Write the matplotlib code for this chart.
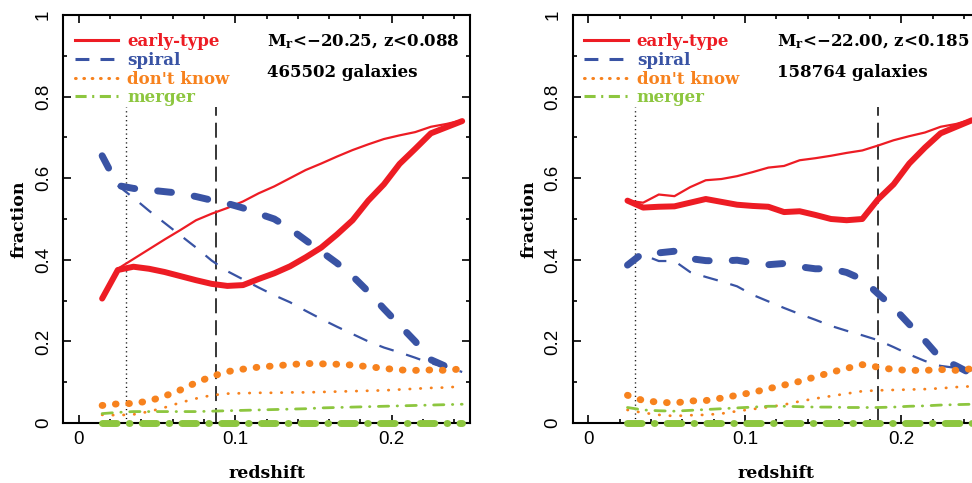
import matplotlib
matplotlib.use("Agg")
import matplotlib.pyplot as plt
from matplotlib.lines import Line2D
from matplotlib.ticker import MultipleLocator

plt.rcParams['font.family'] = 'DejaVu Serif'
plt.rcParams['mathtext.fontset'] = 'dejavuserif'
plt.rcParams['mathtext.default'] = 'bf'
plt.rcParams['lines.scale_dashes'] = False

RED = '#ed1c24'
BLUE = '#3953a4'
ORANGE = '#f7821e'
GREEN = '#8dc63f'

# redshift bin centres
z_left = [0.015, 0.025, 0.035, 0.045, 0.055, 0.065, 0.075, 0.085, 0.095, 0.105, 0.115, 0.125,
          0.135, 0.145, 0.155, 0.165, 0.175, 0.185, 0.195, 0.205, 0.215, 0.225, 0.235, 0.245]
z_right = z_left[1:]

# left panel: Mr < -20.25, z < 0.088  (thick = raw, thin = corrected)
left_early = [0.305, 0.375, 0.383, 0.378, 0.370, 0.360, 0.350, 0.341, 0.336, 0.338, 0.353, 0.367,
              0.384, 0.406, 0.430, 0.462, 0.497, 0.545, 0.585, 0.635, 0.672, 0.710, 0.725, 0.740]
left_early_thin = [0.378, 0.402, 0.426, 0.450, 0.473, 0.497, 0.513, 0.527, 0.543, 0.563, 0.580, 0.600,
                   0.620, 0.636, 0.653, 0.669, 0.683, 0.696, 0.705, 0.713, 0.726, 0.733, 0.742]
left_spiral = [0.655, 0.582, 0.575, 0.571, 0.567, 0.563, 0.555, 0.546, 0.538, 0.527, 0.513, 0.500,
               0.476, 0.448, 0.420, 0.392, 0.360, 0.322, 0.280, 0.240, 0.200, 0.155, 0.138, 0.122]
left_spiral_thin = [0.582, 0.552, 0.520, 0.490, 0.460, 0.430, 0.398, 0.372, 0.352, 0.332, 0.313, 0.296,
                    0.275, 0.255, 0.236, 0.218, 0.200, 0.185, 0.173, 0.160, 0.146, 0.138, 0.125]
left_dk = [0.043, 0.047, 0.048, 0.054, 0.066, 0.081, 0.099, 0.114, 0.126, 0.132, 0.137, 0.140,
           0.143, 0.146, 0.145, 0.144, 0.142, 0.138, 0.134, 0.130, 0.129, 0.130, 0.129, 0.133]
left_dk_thin = [0.020, 0.019, 0.021, 0.028, 0.038, 0.050, 0.060, 0.068, 0.072, 0.073, 0.074, 0.074,
                0.075, 0.075, 0.076, 0.077, 0.078, 0.079, 0.080, 0.082, 0.084, 0.086, 0.087, 0.090]
left_merger = [0.0, 0.0, 0.0, 0.0, 0.0, 0.0, 0.0, 0.0, 0.0, 0.0, 0.0, 0.0,
               0.0, 0.0, 0.0, 0.0, 0.0, 0.0, 0.0, 0.0, 0.0, 0.0, 0.0, 0.0]
left_merger_thin = [0.023, 0.026, 0.028, 0.028, 0.028, 0.028, 0.028, 0.029, 0.030, 0.031, 0.032, 0.033,
                    0.034, 0.035, 0.037, 0.038, 0.039, 0.040, 0.041, 0.042, 0.043, 0.044, 0.045, 0.046]

# right panel: Mr < -22.00, z < 0.185
right_early = [0.545, 0.528, 0.530, 0.531, 0.540, 0.549, 0.542, 0.535, 0.532, 0.530, 0.517, 0.519,
               0.510, 0.500, 0.497, 0.500, 0.548, 0.585, 0.636, 0.675, 0.710, 0.726, 0.742]
right_early_thin = [0.545, 0.540, 0.560, 0.556, 0.578, 0.595, 0.598, 0.605, 0.615, 0.626, 0.630, 0.644,
                    0.649, 0.655, 0.662, 0.668, 0.680, 0.693, 0.703, 0.712, 0.726, 0.733, 0.744]
right_spiral = [0.387, 0.417, 0.417, 0.421, 0.403, 0.398, 0.397, 0.399, 0.393, 0.388, 0.391, 0.383,
                0.378, 0.378, 0.369, 0.352, 0.317, 0.283, 0.242, 0.202, 0.158, 0.140, 0.120]
right_spiral_thin = [0.387, 0.412, 0.397, 0.397, 0.370, 0.358, 0.347, 0.335, 0.314, 0.298, 0.282, 0.267,
                     0.253, 0.238, 0.226, 0.215, 0.203, 0.186, 0.168, 0.152, 0.140, 0.135, 0.129]
right_dk = [0.068, 0.055, 0.051, 0.049, 0.054, 0.055, 0.061, 0.068, 0.075, 0.084, 0.093, 0.102,
            0.113, 0.124, 0.134, 0.143, 0.137, 0.131, 0.129, 0.129, 0.131, 0.129, 0.133]
right_dk_thin = [0.032, 0.025, 0.020, 0.017, 0.019, 0.020, 0.023, 0.029, 0.034, 0.039, 0.045, 0.053,
                 0.060, 0.066, 0.072, 0.078, 0.080, 0.081, 0.082, 0.083, 0.085, 0.088, 0.090]
right_merger = [0.0, 0.0, 0.0, 0.0, 0.0, 0.0, 0.0, 0.0, 0.0, 0.0, 0.0, 0.0,
                0.0, 0.0, 0.0, 0.0, 0.0, 0.0, 0.0, 0.0, 0.0, 0.0, 0.0]
right_merger_thin = [0.038, 0.032, 0.030, 0.029, 0.031, 0.033, 0.035, 0.037, 0.039, 0.041, 0.041, 0.040,
                     0.039, 0.039, 0.038, 0.038, 0.038, 0.039, 0.041, 0.042, 0.044, 0.045, 0.046]

labels = ['early-type', 'spiral', "don't know", 'merger']
colors = [RED, BLUE, ORANGE, GREEN]
x_ticks = [0, 0.1, 0.2]
x_ticklabels = ['0', '0.1', '0.2']
y_ticks = [0, 0.2, 0.4, 0.6, 0.8, 1.0]
y_ticklabels = ['0', '0.2', '0.4', '0.6', '0.8', '1']

z_vol = 0.03
z_lim_left = 0.088
z_lim_right = 0.185
cut_height = 0.775

thick_style = [
    dict(lw=4.3, solid_capstyle='round', solid_joinstyle='round'),
    dict(lw=5.0, dashes=(10, 16.6), dash_capstyle='round', dash_joinstyle='round'),
    dict(lw=5.0, dashes=(0.5, 9.1), dash_capstyle='round'),
    dict(lw=5.0, dashes=(10.5, 8.8, 0.5, 8.8), dash_capstyle='round'),
]
thin_style = [
    dict(lw=1.6),
    dict(lw=1.6, dashes=(10.8, 9.4)),
    dict(lw=2.0, dashes=(0.3, 7.4), dash_capstyle='round'),
    dict(lw=2.0, dashes=(7.4, 6.1, 0.3, 6.1), dash_capstyle='round'),
]
legend_style = [
    dict(lw=2.2),
    dict(lw=2.2, dashes=(10, 8)),
    dict(lw=2.2, dashes=(0.5, 5.5), dash_capstyle='round'),
    dict(lw=2.2, dashes=(8, 4, 1.5, 4)),
]


def draw_panel(ax, z_thick, thick, z_thin, thin, z_cut, title, ngal):
    for c in range(4):
        zt = z_thick[-len(thick[c]):]
        ax.plot(zt, thick[c], color=colors[c], clip_on=(c != 3), zorder=3, **thick_style[c])
        zn = z_thin[-len(thin[c]):]
        ax.plot(zn, thin[c], color=colors[c], zorder=3, **thin_style[c])

    ax.vlines(z_vol, 0, cut_height, color='black', lw=1.0, linestyles=[(0, (0.8, 2.4))])
    ax.vlines(z_cut, 0, cut_height, color='black', lw=1.1, linestyles=[(0, (10.8, 5))])

    ax.set_xlim(-0.01, 0.25)
    ax.set_ylim(0, 1)
    ax.set_xticks(x_ticks)
    ax.set_xticklabels(x_ticklabels, family='Liberation Sans')
    ax.set_yticks(y_ticks)
    ax.set_yticklabels(y_ticklabels, family='Liberation Sans', rotation=90, va='center')
    ax.xaxis.set_minor_locator(MultipleLocator(0.02))
    ax.yaxis.set_minor_locator(MultipleLocator(0.1))
    ax.tick_params(which='both', direction='in', top=True, right=True, width=1.2, labelsize=13.5)
    ax.tick_params(which='major', length=6)
    ax.tick_params(which='minor', length=3.2)
    ax.tick_params(axis='x', pad=6)
    ax.tick_params(axis='y', pad=8)
    for s in ax.spines.values():
        s.set_linewidth(1.5)

    ax.set_xlabel('redshift', fontsize=12.5, fontweight='bold', labelpad=12)
    ax.set_ylabel('fraction', fontsize=12.5, fontweight='bold', labelpad=5)

    handles = [Line2D([], [], color=colors[c], **legend_style[c]) for c in range(4)]
    ax.legend(handles, labels, loc='upper left', bbox_to_anchor=(0.0, 0.984), frameon=False,
              prop=dict(size=12, weight='bold'), labelcolor=colors, handlelength=2.6,
              handletextpad=0.55, labelspacing=0.1, borderaxespad=0.3)

    ax.text(0.501, 0.934, title, transform=ax.transAxes, fontsize=12, fontweight='bold',
            va='center', ha='left')
    ax.text(0.501, 0.860, ngal, transform=ax.transAxes, fontsize=12, fontweight='bold',
            va='center', ha='left')


fig = plt.figure(figsize=(9.72, 4.83), dpi=100)
ax1 = fig.add_axes([63 / 972, 60 / 483, 407 / 972, 408 / 483])
ax2 = fig.add_axes([572.7 / 972, 60 / 483, 407 / 972, 408 / 483])

draw_panel(ax1, z_left,
           [left_early, left_spiral, left_dk, left_merger],
           z_left,
           [left_early_thin, left_spiral_thin, left_dk_thin, left_merger_thin],
           z_lim_left, r'M$_r$<$-$20.25, z<0.088', '465502 galaxies')
draw_panel(ax2, z_right,
           [right_early, right_spiral, right_dk, right_merger],
           z_right,
           [right_early_thin, right_spiral_thin, right_dk_thin, right_merger_thin],
           z_lim_right, r'M$_r$<$-$22.00, z<0.185', '158764 galaxies')

fig.savefig('out.png', dpi=100)
